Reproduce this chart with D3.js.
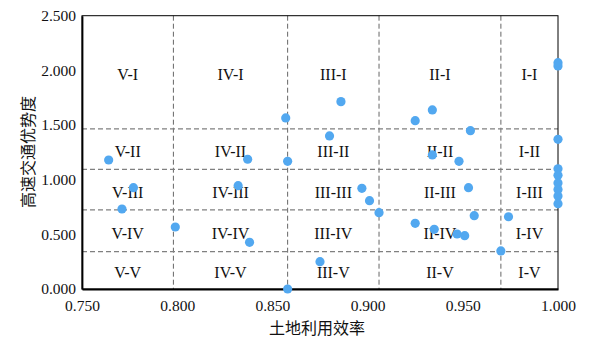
<!DOCTYPE html>
<html>
<head>
<meta charset="utf-8">
<script src="https://cdn.jsdelivr.net/npm/d3@7"></script>
<style>
  body { margin: 0; background: #fff; }
  svg { display: block; }
</style>
</head>
<body>
<svg id="chart" width="593" height="341"></svg>
<script>
// ---- data ----
const landEfficiency = [0.764, 0.777, 0.771, 0.799, 0.838, 0.858, 0.857, 0.837, 0.858, 0.832,
  0.886, 0.880, 0.897, 0.901, 0.906, 0.875, 0.925, 0.934, 0.954, 0.934,
  0.948, 0.953, 0.925, 0.935, 0.947, 0.951, 0.956, 0.974, 0.970,
  1.000, 1.000, 1.000, 1.000, 1.000, 1.000, 1.000, 1.000, 1.000];
const railAdvantage = [1.180, 0.927, 0.732, 0.567, 0.427, 0.000, 1.565, 1.187, 1.168, 0.945,
  1.714, 1.400, 0.921, 0.808, 0.698, 0.250, 1.540, 1.638, 1.448, 1.226,
  1.168, 0.927, 0.601, 0.546, 0.503, 0.488, 0.671, 0.661, 0.348,
  2.040, 2.070, 1.369, 1.100, 1.040, 0.970, 0.910, 0.850, 0.780];
const xTicks = [0.75, 0.80, 0.85, 0.90, 0.95, 1.00];
const yTicks = [0, 0.5, 1.0, 1.5, 2.0, 2.5];
const xThresholds = [0.798, 0.858, 0.906, 0.970];
const yThresholds = [1.464, 1.095, 0.723, 0.341];
const colNames = ["V", "IV", "III", "II", "I"];
const rowNames = ["I", "II", "III", "IV", "V"];
const xTitle = "土地利用效率";
const yTitle = "高速交通优势度";

(function () {
// ---- layout ----
const svg = d3.select("#chart");
const pLeft = 82, pRight = 558, pTop = 15.7, pBottom = 289;
const x = d3.scaleLinear().domain([0.75, 1.0]).range([pLeft, pRight]);
const y = d3.scaleLinear().domain([0, 2.5]).range([pBottom, pTop]);
const serif = "'Liberation Serif', 'Times New Roman', serif";

// grid dashed lines
svg.append("g").selectAll("line").data(xThresholds).join("line")
  .attr("x1", d => x(d)).attr("x2", d => x(d))
  .attr("y1", pTop).attr("y2", pBottom)
  .attr("stroke", "#666").attr("stroke-width", 1)
  .attr("stroke-dasharray", "5,3");
svg.append("g").selectAll("line").data(yThresholds).join("line")
  .attr("x1", pLeft).attr("x2", pRight)
  .attr("y1", d => y(d)).attr("y2", d => y(d))
  .attr("stroke", "#808080").attr("stroke-width", 1.3)
  .attr("stroke-dasharray", "5,3");

// frame
svg.append("rect").attr("x", pLeft).attr("y", pTop)
  .attr("width", pRight - pLeft).attr("height", pBottom - pTop)
  .attr("fill", "none").attr("stroke", "#000").attr("stroke-width", 1);

// axes
const xAxis = d3.axisBottom(x).tickValues(xTicks).tickFormat(d3.format(".3f")).tickSize(0).tickPadding(11);
const yAxis = d3.axisLeft(y).tickValues(yTicks).tickFormat(d3.format(".3f")).tickSize(0).tickPadding(6);
const gx = svg.append("g").attr("transform", `translate(0,${pBottom})`).call(xAxis);
const gy = svg.append("g").attr("transform", `translate(${pLeft},0)`).call(yAxis);
[gx, gy].forEach(g => {
  g.select(".domain").attr("stroke", "#000").attr("stroke-width", 1.8);
  g.selectAll("text").attr("font-family", serif).attr("font-size", 15.5).attr("fill", "#111");
});

// zone labels
const colEdges = [0.75, ...xThresholds, 1.0];
const rowEdges = [2.5, ...yThresholds, 0];
const zones = [];
rowNames.forEach((r, ri) => colNames.forEach((c, ci) => {
  zones.push({ text: c + "-" + r,
    cx: (colEdges[ci] + colEdges[ci + 1]) / 2,
    cy: (rowEdges[ri] + rowEdges[ri + 1]) / 2 });
}));
svg.append("g").selectAll("text").data(zones).join("text")
  .attr("x", d => x(d.cx)).attr("y", d => y(d.cy))
  .attr("dy", "0.5em")
  .attr("text-anchor", "middle")
  .attr("font-family", serif).attr("font-size", 16).attr("fill", "#111")
  .text(d => d.text);

// points
const pts = landEfficiency.map((v, i) => ({ x: v, y: railAdvantage[i] }));
svg.append("g").selectAll("circle").data(pts).join("circle")
  .attr("cx", d => x(d.x)).attr("cy", d => y(d.y))
  .attr("r", 4.6).attr("fill", "#52a8f0");

// axis titles
svg.append("text").attr("x", 317).attr("y", 334)
  .attr("text-anchor", "middle")
  .attr("font-family", "'Noto Sans CJK SC', sans-serif").attr("font-size", 16).attr("fill", "#111")
  .text(xTitle);
svg.append("text")
  .attr("transform", "translate(27,152) rotate(-90)")
  .attr("text-anchor", "middle").attr("dominant-baseline", "central")
  .attr("font-family", "'Noto Sans CJK SC', sans-serif").attr("font-size", 16).attr("fill", "#111")
  .text(yTitle);
})();
</script>
</body>
</html>
